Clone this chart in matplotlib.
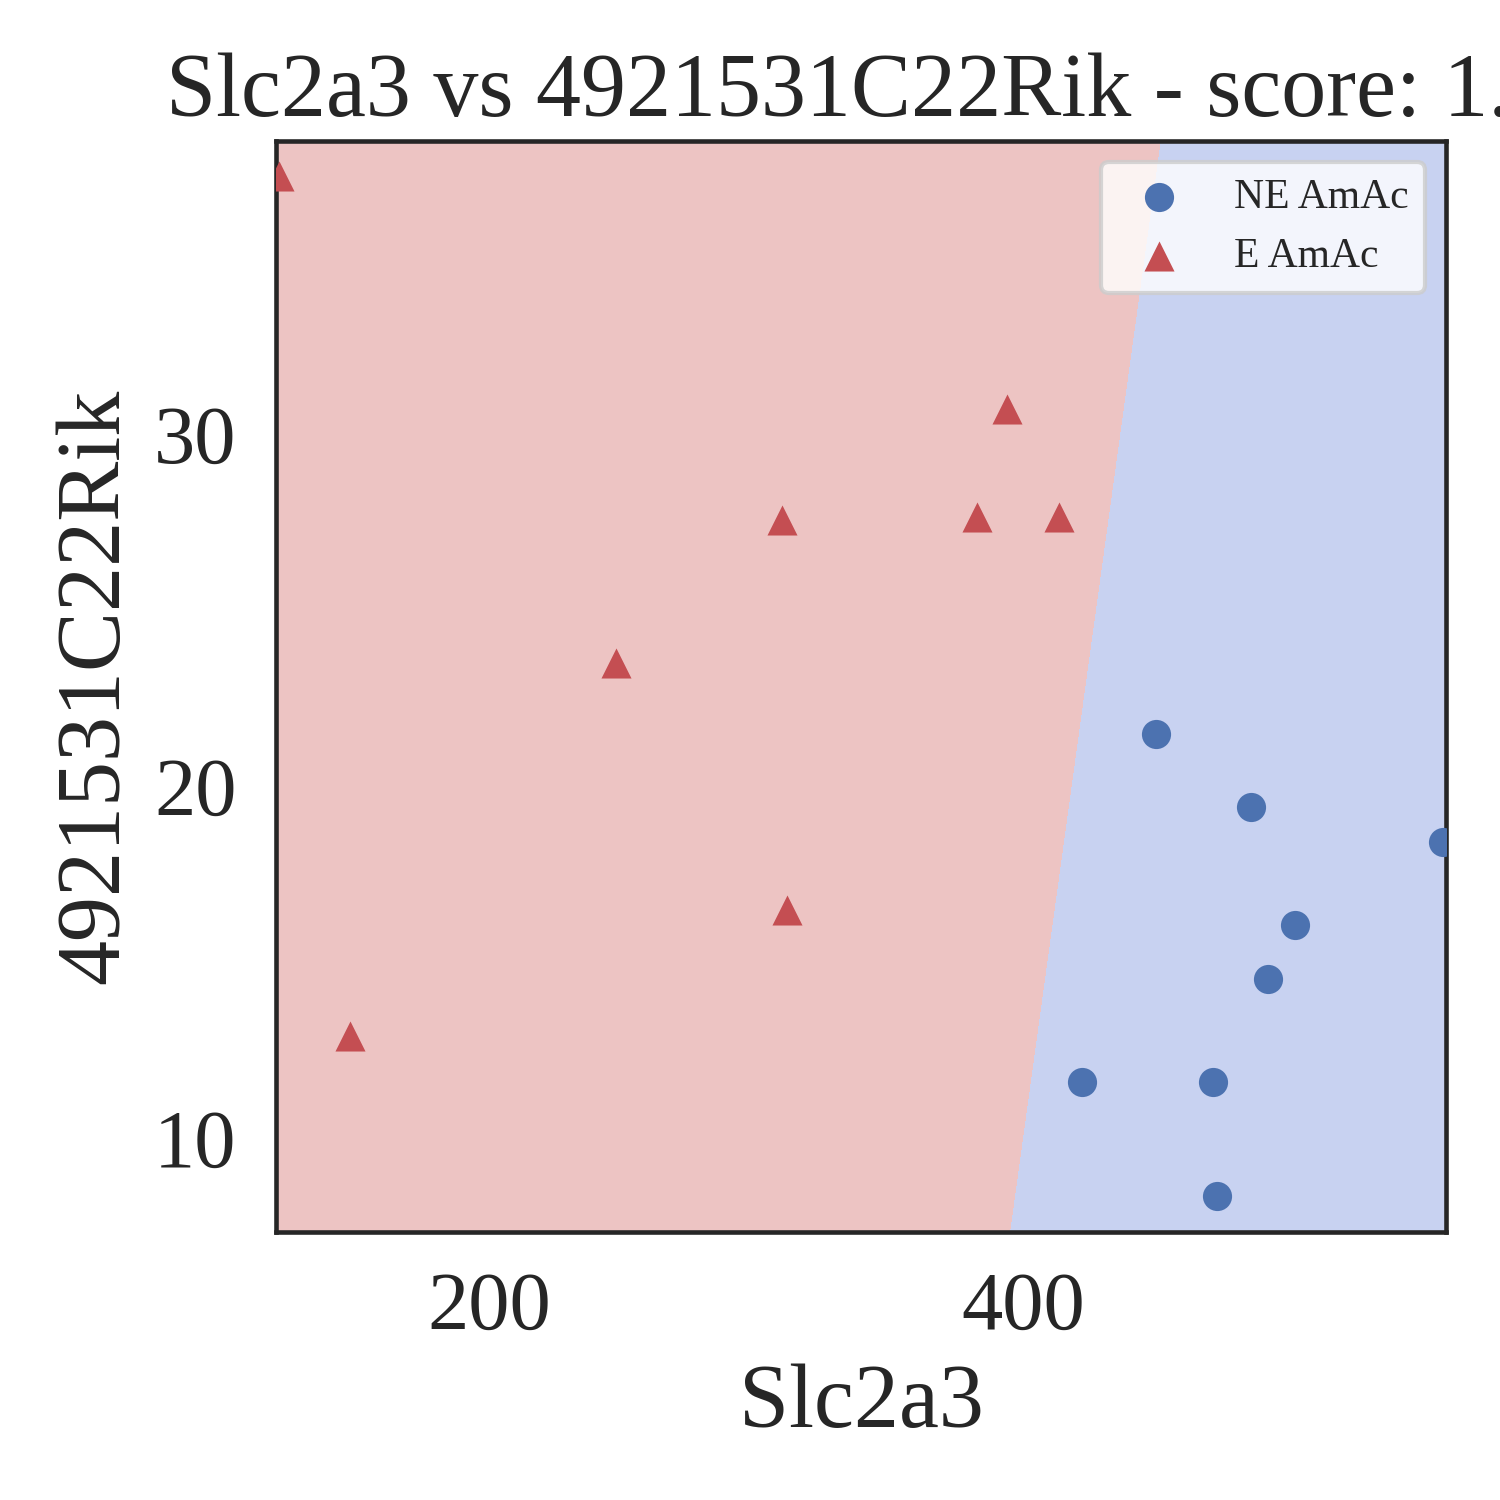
import numpy as np
import matplotlib.pyplot as plt

plt.rcParams['font.family'] = ['Liberation Serif', 'DejaVu Serif']
plt.rcParams['text.color'] = '#262626'
plt.rcParams['axes.labelcolor'] = '#262626'
plt.rcParams['xtick.color'] = '#262626'
plt.rcParams['ytick.color'] = '#262626'

GENE_X = "Slc2a3"
GENE_Y = "4921531C22Rik"
SCORE = "1.0"

# E AmAc samples (red triangles)
e_x = [121.0, 394.2, 309.8, 382.9, 413.7, 247.6, 311.7, 147.8]
e_y = [37.33, 30.73, 27.57, 27.66, 27.66, 23.51, 16.47, 12.91]
# NE AmAc samples (blue circles)
ne_x = [449.8, 485.4, 557.7, 501.9, 491.8, 422.4, 471.5, 473.0]
ne_y = [21.49, 19.42, 18.41, 16.05, 14.51, 11.59, 11.59, 8.35]

# linear classifier: coef . (x, y) + intercept > 0 -> NE
coef = [1.0, -1.822]
intercept = -382.1

xticks = [200, 400]
yticks = [10, 20, 30]

all_x = np.array(e_x + ne_x)
all_y = np.array(e_y + ne_y)
x0, x1 = all_x.min() - 1, all_x.max() + 1
y0, y1 = all_y.min() - 1, all_y.max() + 1
xx, yy = np.meshgrid(np.linspace(x0, x1, 900), np.linspace(y0, y1, 600))
zz = coef[0] * xx + coef[1] * yy + intercept

fig = plt.figure(figsize=(5, 5), dpi=300)
ax = fig.add_axes([0.184, 0.179, 0.78, 0.727])
ax.contourf(xx, yy, zz, levels=[zz.min() - 1, 0, zz.max() + 1],
            colors=['#EDC4C3', '#C8D2F1'])

ax.scatter(ne_x, ne_y, s=49, marker='o', color='#4C72B0', linewidths=0,
           label='NE AmAc', zorder=3)
ax.scatter(e_x, e_y, s=52, marker='^', color='#C44E52', linewidths=0,
           label='E AmAc', zorder=3)

ax.set_xlim(x0, x1)
ax.set_ylim(y0, y1)
ax.set_xticks(xticks)
ax.set_yticks(yticks)
ax.tick_params(length=0, labelsize=19.8, pad=9.5)
for s in ax.spines.values():
    s.set_color('#262626')
    s.set_linewidth(1.1)

ax.set_xlabel(GENE_X, fontsize=21.6)
ax.set_ylabel(GENE_Y, fontsize=21.6)
# the title runs past the right edge in the original figure as well
ax.set_title(f"{GENE_X} vs {GENE_Y} - score: {SCORE}", fontsize=21.6)

leg = ax.legend(loc='upper right', fontsize=10, frameon=True, fancybox=True)
leg.get_frame().set_edgecolor('#cccccc')
leg.get_frame().set_facecolor('white')
leg.get_frame().set_alpha(0.8)

fig.savefig("out.png", dpi=300)
